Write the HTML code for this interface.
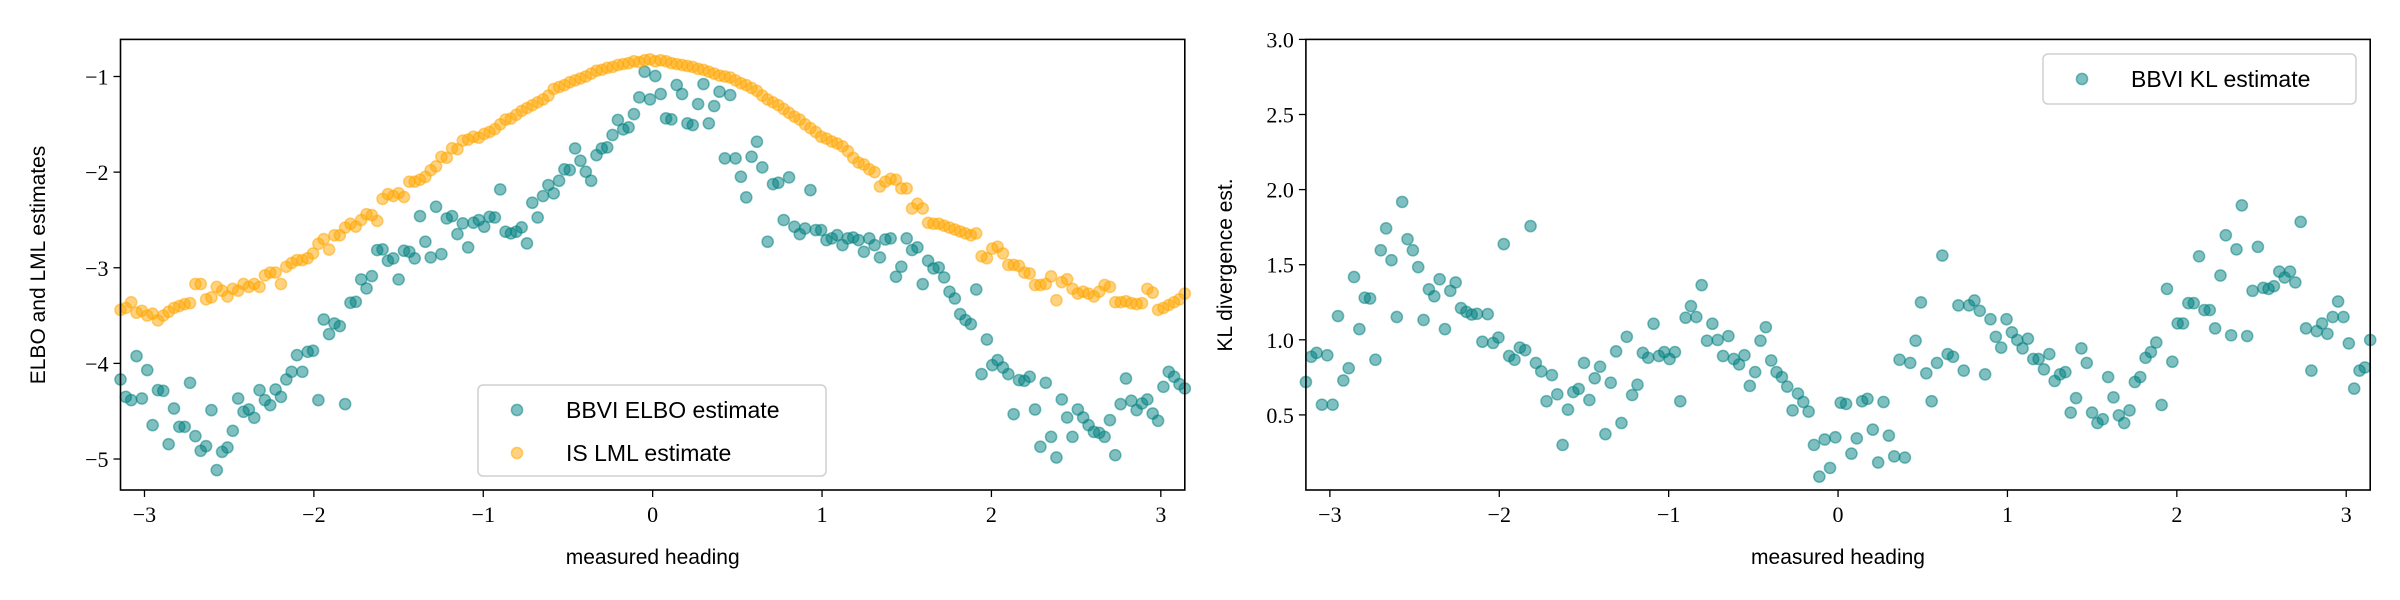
<!DOCTYPE html>
<html><head><meta charset="utf-8"><style>
html,body{margin:0;padding:0;background:#fff;}
svg{display:block;}
.tk{font-family:"Liberation Serif",serif;font-size:22px;fill:#000;}
.lb{font-family:"Liberation Sans",sans-serif;font-size:21px;fill:#000;}
.lg{font-family:"Liberation Sans",sans-serif;font-size:23px;fill:#000;}
</style></head><body>
<svg id="fig" width="2400" height="600" viewBox="0 0 2400 600" xmlns="http://www.w3.org/2000/svg"></svg>
<script>
const xTicks = [-3, -2, -1, 0, 1, 2, 3];
const leftYTicks = [-1, -2, -3, -4, -5];
const rightYTicks = [0.5, 1.0, 1.5, 2.0, 2.5, 3.0];
const rightYTickLabels = ["0.5", "1.0", "1.5", "2.0", "2.5", "3.0"];
const nPoints = 200;
const isLml = [
-3.44,-3.42,-3.36,-3.47,-3.45,-3.50,-3.48,-3.55,-3.50,-3.46,
-3.42,-3.40,-3.38,-3.37,-3.17,-3.17,-3.33,-3.31,-3.20,-3.24,
-3.30,-3.22,-3.24,-3.17,-3.20,-3.17,-3.20,-3.08,-3.05,-3.05,
-3.17,-2.99,-2.95,-2.92,-2.92,-2.90,-2.85,-2.75,-2.70,-2.81,
-2.66,-2.66,-2.58,-2.54,-2.57,-2.50,-2.44,-2.45,-2.51,-2.28,
-2.23,-2.25,-2.22,-2.26,-2.10,-2.10,-2.08,-2.05,-1.98,-1.94,
-1.84,-1.85,-1.75,-1.76,-1.67,-1.66,-1.63,-1.64,
-1.60,-1.58,-1.55,-1.50,-1.45,-1.44,-1.40,-1.36,-1.33,-1.30,-1.27,-1.24,
-1.20,-1.13,-1.11,-1.09,-1.06,-1.04,-1.02,-1.00,-0.97,-0.94,
-0.93,-0.91,-0.90,-0.88,-0.87,-0.86,-0.84,-0.85,-0.83,-0.82,
-0.84,-0.83,-0.84,-0.86,-0.87,-0.88,-0.89,-0.90,-0.92,-0.93,
-0.95,-0.97,-0.99,-1.00,-1.01,-1.04,-1.07,-1.09,-1.12,-1.15,
-1.20,-1.24,-1.27,-1.30,-1.34,-1.38,-1.42,-1.45,-1.50,-1.54,-1.58,-1.63,
-1.65,-1.68,-1.70,-1.73,-1.78,-1.85,-1.90,-1.92,-1.97,-2.00,
-2.15,-2.10,-2.07,-2.08,-2.17,-2.17,-2.38,-2.33,-2.38,-2.53,
-2.54,-2.54,-2.56,-2.58,-2.60,-2.62,-2.64,-2.66,-2.64,-2.88,
-2.90,-2.80,-2.78,-2.85,-2.97,-2.97,-2.98,-3.05,-3.06,-3.18,
-3.18,-3.17,-3.09,-3.34,-3.15,-3.12,-3.22,-3.27,-3.25,-3.27,
-3.30,-3.25,-3.18,-3.20,-3.36,-3.36,-3.35,-3.37,-3.38,-3.37,
-3.22,-3.26,-3.44,-3.42,-3.39,-3.36,-3.33,-3.27];
const bbviElbo = [
-4.168,-4.35,-4.384,-3.924,-4.367,-4.07,-4.646,-4.28,-4.287,-4.845,
-4.472,-4.663,-4.663,-4.203,-4.761,-4.914,-4.865,-4.489,-5.116,-4.925,
-4.879,-4.705,-4.367,-4.506,-4.482,-4.569,-4.28,-4.384,-4.437,-4.273,
-4.35,-4.168,-4.088,-3.914,-4.088,-3.879,-3.868,-4.384,-3.541,-3.694,
-3.582,-3.61,-4.426,-3.366,-3.356,-3.122,-3.216,-3.087,-2.815,-2.808,
-2.927,-2.902,-3.122,-2.822,-2.833,-2.902,-2.46,-2.728,-2.892,-2.362,
-2.857,-2.484,-2.46,-2.648,-2.536,-2.787,-2.529,-2.501,
-2.571,-2.467,-2.474,-2.181,-2.623,-2.641,-2.623,-2.578,-2.745,-2.32,
-2.474,-2.25,-2.135,-2.222,-2.09,-1.971,-1.978,-1.752,-1.881,-1.996,
-2.09,-1.822,-1.752,-1.741,-1.612,-1.455,-1.553,-1.532,-1.393,-1.218,
-0.95,-1.239,-0.995,-1.183,-1.438,-1.448,-1.089,-1.183,-1.49,-1.508,
-1.288,-1.079,-1.49,-1.309,-1.159,-1.856,-1.194,-1.856,-2.048,-2.264,
-1.839,-1.682,-1.95,-2.728,-2.125,-2.111,-2.501,-2.055,-2.571,-2.648,
-2.589,-2.188,-2.606,-2.606,
-2.711,-2.693,-2.658,-2.763,-2.693,-2.683,-2.711,-2.833,-2.693,-2.763,
-2.892,-2.704,-2.693,-3.094,-2.989,-2.693,-2.815,-2.787,-3.171,-2.927,
-3.007,-2.997,-3.101,-3.251,-3.321,-3.485,-3.547,-3.589,-3.227,-4.112,
-3.75,-4.018,-3.966,-4.043,-4.112,-4.531,-4.175,-4.182,-4.14,-4.482,
-4.872,-4.203,-4.768,-4.984,-4.377,-4.566,-4.768,-4.482,-4.566,-4.646,
-4.716,-4.726,-4.768,-4.593,-4.96,-4.426,-4.158,-4.391,-4.489,-4.419,
-4.377,-4.524,-4.6,-4.245,-4.088,-4.14,-4.217,-4.262];
const bbviKl = [
0.719,0.887,0.913,0.568,0.897,0.568,1.158,0.729,0.811,1.418,
1.071,1.280,1.275,0.867,1.596,1.742,1.530,1.152,1.918,1.670,
1.596,1.484,1.132,1.336,1.290,1.403,1.071,1.326,1.382,1.211,
1.186,1.168,1.173,0.987,1.171,0.979,1.015,1.637,0.892,0.867,
0.948,0.931,1.757,0.846,0.790,0.591,0.765,0.637,0.300,0.535,
0.652,0.673,0.846,0.599,0.744,0.821,0.372,0.714,0.923,0.446,
1.020,0.632,0.701,0.913,0.880,1.107,0.892,0.918,0.872,0.918,
0.591,1.147,1.224,1.152,1.364,0.994,1.107,0.999,0.892,1.025,
0.872,0.836,0.897,0.693,0.785,0.994,1.084,0.862,0.785,0.752,
0.688,0.530,0.642,0.586,0.522,0.300,0.089,0.336,0.147,0.351,
0.581,0.573,
0.242,0.344,0.591,0.607,0.402,0.183,0.586,0.362,0.224,0.867,
0.216,0.846,0.994,1.249,0.777,0.591,0.846,1.561,0.905,0.887,
1.229,0.795,1.229,1.262,1.193,0.770,1.137,1.020,0.948,1.137,
1.050,0.999,0.943,1.007,0.872,0.872,0.803,0.905,0.726,0.770,
0.785,0.515,0.612,0.943,0.846,0.515,0.446,0.471,0.752,0.617,
0.497,0.446,0.530,0.719,0.752,0.880,0.918,0.982,0.566,1.339,
0.854,1.109,1.109,1.244,1.244,1.556,1.198,1.198,1.076,1.428,
1.696,1.030,1.602,1.895,1.025,1.326,1.619,1.346,1.339,1.357,
1.454,1.415,1.454,1.382,1.785,1.076,0.795,1.058,1.109,1.040,
1.152,1.255,1.152,0.976,0.675,0.795,0.816,0.999];

const NS = "http://www.w3.org/2000/svg";
const svg = document.getElementById('fig');
function mk(tag, attrs, parent){const e=document.createElementNS(NS,tag);for(const k in attrs)e.setAttribute(k,attrs[k]);(parent||svg).appendChild(e);return e;}
const headings = [];
for(let i=0;i<nPoints;i++) headings.push(-Math.PI + 2*Math.PI*i/(nPoints-1));
function axis(x0,x1,y0,y1,xmin,xmax,ymin,ymax){
  return {sx:v=>x0+(v-xmin)/(xmax-xmin)*(x1-x0), sy:v=>y1-(v-ymin)/(ymax-ymin)*(y1-y0), x0,x1,y0,y1};
}
const L = axis(120.5,1184.8,39.4,490,-Math.PI,Math.PI,-5.324,-0.612);
const R = axis(1305.9,2370.2,39.4,490,-Math.PI,Math.PI,0.0,3.0);
const minus = s => s.replace('-', '\u2212');

function drawFrame(ax,name){
  const g = mk('g',{});
  
  
  xTicks.forEach(t=>{
    const x=ax.sx(t);
    const l=mk('line',{x1:x,x2:x,y1:ax.y1,y2:ax.y1+7,stroke:'#000','stroke-width':1.3},g);
    
    
    const tx=mk('text',{x:x,y:ax.y1+32,'text-anchor':'middle',class:'tk'},g);
    
    
    tx.textContent=minus(String(t));
  });
  return g;
}
function drawYTicks(ax,ticks,labels,g){
  ticks.forEach((t,i)=>{
    const y=ax.sy(t);
    const l=mk('line',{x1:ax.x0-7,x2:ax.x0,y1:y,y2:y,stroke:'#000','stroke-width':1.3},g);
    
    
    const tx=mk('text',{x:ax.x0-12,y:y+8,'text-anchor':'end',class:'tk'},g);
    
    
    tx.textContent=labels[i];
  });
}
function scatter(ax,xs,ys,color,name){
  const g=mk('g',{});
  
  
  ys.forEach((v,i)=>{
    const c=mk('circle',{cx:ax.sx(xs[i]).toFixed(2),cy:ax.sy(v).toFixed(2),r:5.6,fill:color,'fill-opacity':0.5,stroke:color,'stroke-opacity':0.5,'stroke-width':1.5},g);
    
    
  });
}
function frameRect(ax,name){
  const r=mk('rect',{x:ax.x0,y:ax.y0,width:ax.x1-ax.x0,height:ax.y1-ax.y0,fill:'none',stroke:'#000','stroke-width':1.6});
  
  
}

// left
const gl=drawFrame(L,'left');
drawYTicks(L,leftYTicks,leftYTicks.map(v=>minus(String(v))),gl);
scatter(L,headings,bbviElbo,'#008080','bbvi-elbo');
scatter(L,headings,isLml,'#FFA500','is-lml');
frameRect(L,'left');
// right
const gr=drawFrame(R,'right');
drawYTicks(R,rightYTicks,rightYTickLabels,gr);
scatter(R,headings,bbviKl,'#008080','bbvi-kl');
frameRect(R,'right');
</script>
<svg width="0" height="0" style="position:absolute"></svg>
<div style="position:absolute;left:0;top:0;width:2400px;height:600px;pointer-events:none">
<svg width="2400" height="600" xmlns="http://www.w3.org/2000/svg">
  <text class="lb" x="652.7" y="564" text-anchor="middle">measured heading</text>
  <text class="lb" x="1838" y="564" text-anchor="middle">measured heading</text>
  <text class="lb" transform="translate(45,265) rotate(-90)" text-anchor="middle">ELBO and LML estimates</text>
  <text class="lb" transform="translate(1232,265) rotate(-90)" text-anchor="middle">KL divergence est.</text>
  <g>
    <rect x="478" y="385" width="348" height="91" rx="5" fill="rgba(255,255,255,0.8)" stroke="#d0d0d0" stroke-width="1.5"/>
    <circle cx="517" cy="410" r="5.6" fill="#008080" fill-opacity="0.5" stroke="#008080" stroke-opacity="0.5" stroke-width="1.5"/>
    <text class="lg" x="566" y="418">BBVI ELBO estimate</text>
    <circle cx="517" cy="453" r="5.6" fill="#FFA500" fill-opacity="0.5" stroke="#FFA500" stroke-opacity="0.5" stroke-width="1.5"/>
    <text class="lg" x="566" y="461">IS LML estimate</text>
  </g>
  <g>
    <rect x="2043" y="54" width="313" height="50" rx="5" fill="rgba(255,255,255,0.8)" stroke="#d0d0d0" stroke-width="1.5"/>
    <circle cx="2082" cy="79" r="5.6" fill="#008080" fill-opacity="0.5" stroke="#008080" stroke-opacity="0.5" stroke-width="1.5"/>
    <text class="lg" x="2131" y="87">BBVI KL estimate</text>
  </g>
</svg>
</div>
</body></html>
